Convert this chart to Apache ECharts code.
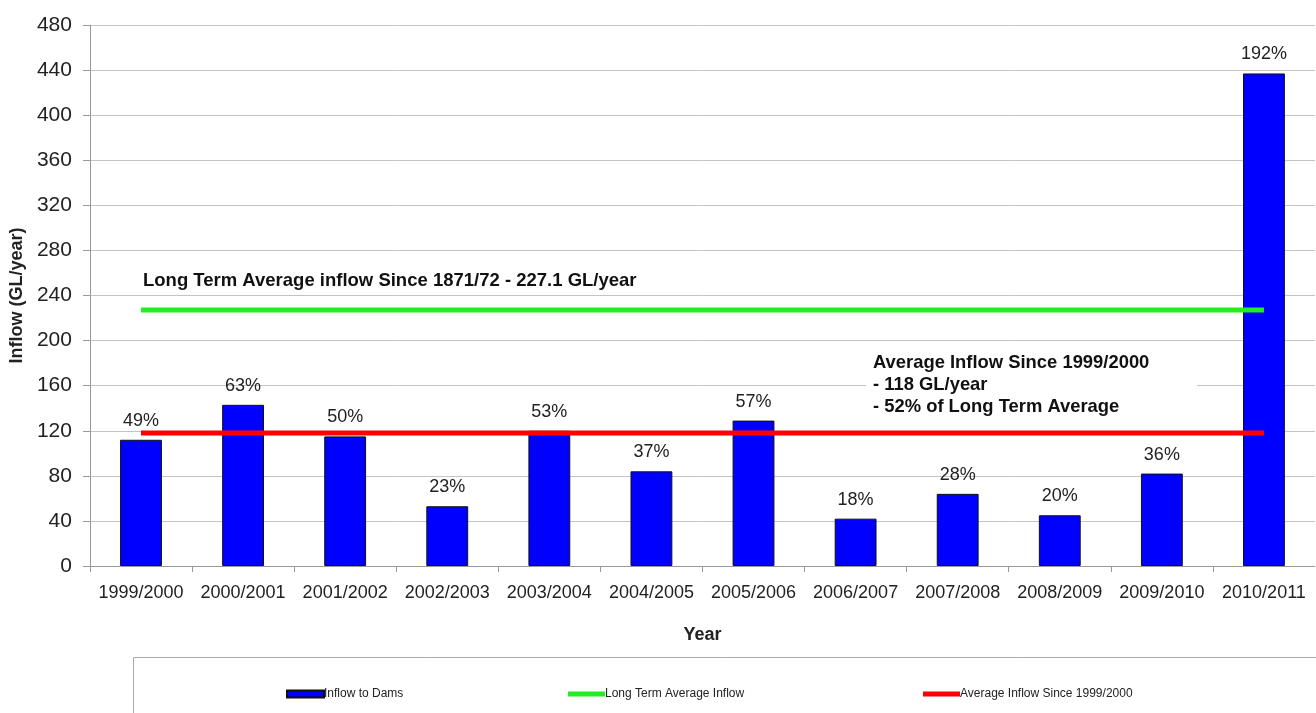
<!DOCTYPE html>
<html>
<head>
<meta charset="utf-8">
<script src="https://cdn.jsdelivr.net/npm/echarts@6/dist/echarts.min.js"></script>
<style>html,body{margin:0;padding:0;background:#fff}#c{width:1316px;height:713px}</style>
</head>
<body>
<div id="c"></div>
<script>
const categories = ['1999/2000','2000/2001','2001/2002','2002/2003','2003/2004','2004/2005','2005/2006','2006/2007','2007/2008','2008/2009','2009/2010','2010/2011'];
const inflow = [112, 143, 115, 53, 120, 84, 129, 42, 64, 45, 82, 437];
const percentLabels = ['49%','63%','50%','23%','53%','37%','57%','18%','28%','20%','36%','192%'];
const longTermAverage = 227.1;
const recentAverage = 118;
const yTicks = [0, 480, 40];

const chart = echarts.init(document.getElementById('c'), null, {renderer: 'canvas'});
const FONT = 'Liberation Sans, Arial, sans-serif';
chart.setOption({
  animation: false,
  backgroundColor: '#fff',
  textStyle: {fontFamily: FONT},
  grid: {left: 89, right: 1, top: 25, bottom: 147, containLabel: false},
  xAxis: {
    type: 'category',
    data: categories,
    name: 'Year',
    nameLocation: 'middle',
    nameGap: 60,
    nameTextStyle: {fontSize: 18, fontWeight: 'bold', color: '#222', fontFamily: FONT},
    axisLine: {lineStyle: {color: '#999', width: 1}},
    axisTick: {show: true, alignWithLabel: false, length: 6, lineStyle: {color: '#999'}},
    axisLabel: {fontSize: 18, color: '#222', margin: 18, fontFamily: FONT, interval: 0}
  },
  yAxis: {
    type: 'value',
    min: yTicks[0], max: yTicks[1], interval: yTicks[2],
    name: 'Inflow (GL/year)',
    nameLocation: 'middle',
    nameGap: 62,
    nameTextStyle: {fontSize: 18, fontWeight: 'bold', color: '#222', fontFamily: FONT},
    axisLine: {show: true, lineStyle: {color: '#999'}},
    axisTick: {show: true, length: 7, lineStyle: {color: '#999'}},
    axisLabel: {fontSize: 21, color: '#222', margin: 18, fontFamily: FONT},
    splitLine: {show: true, lineStyle: {color: '#c4c4c4', width: 1}}
  },
  legend: [
    {data: [{name: 'Inflow to Dams', icon: 'rect'}], left: 281, top: 683, itemWidth: 37, itemHeight: 7, itemGap: 0,
     textStyle: {fontSize: 12, color: '#222', padding: [0,0,0,-5]}},
    {data: [{name: 'Long Term Average Inflow', icon: 'rect'}], left: 563, top: 683, itemWidth: 37, itemHeight: 5,
     textStyle: {fontSize: 12, color: '#222', padding: [0,0,0,-5]}},
    {data: [{name: 'Average Inflow Since 1999/2000', icon: 'rect'}], left: 918, top: 683, itemWidth: 37, itemHeight: 5,
     textStyle: {fontSize: 12, color: '#222', padding: [0,0,0,-5]}}
  ],
  graphic: [
    {type: 'rect', left: 131, top: 655, shape: {width: 1200, height: 70},
     style: {fill: 'none', stroke: '#aaa', lineWidth: 1}, z: -1},
    {type: 'text', left: 143, top: 271,
     style: {text: 'Long Term Average inflow Since 1871/72 - 227.1 GL/year', font: 'bold 18.5px ' + FONT, fill: '#111'}},
    {type: 'rect', left: 866, top: 350, shape: {width: 331, height: 68},
     style: {fill: '#fff'}, z: 1},
    {type: 'text', left: 873, top: 352, z: 2,
     style: {text: 'Average Inflow Since 1999/2000\n- 118 GL/year\n- 52% of Long Term Average', font: 'bold 18.4px ' + FONT, fill: '#111', lineHeight: 22}}
  ],
  series: [
    {
      name: 'Inflow to Dams',
      type: 'bar',
      data: inflow,
      barWidth: '41%',
      itemStyle: {color: '#0000ff', borderColor: '#111', borderWidth: 1},
      label: {
        show: true, position: 'top', distance: 10, fontSize: 18, color: '#222', fontFamily: FONT,
        formatter: p => percentLabels[p.dataIndex]
      },
      z: 2
    },
    {
      name: 'Long Term Average Inflow',
      type: 'line',
      data: categories.map(() => longTermAverage),
      symbol: 'none',
      lineStyle: {color: '#22ee22', width: 5},
      itemStyle: {color: '#22ee22'},
      z: 3
    },
    {
      name: 'Average Inflow Since 1999/2000',
      type: 'line',
      data: categories.map(() => recentAverage),
      symbol: 'none',
      lineStyle: {color: '#ff0000', width: 5},
      itemStyle: {color: '#ff0000'},
      z: 3
    }
  ]
});
</script>
</body>
</html>
